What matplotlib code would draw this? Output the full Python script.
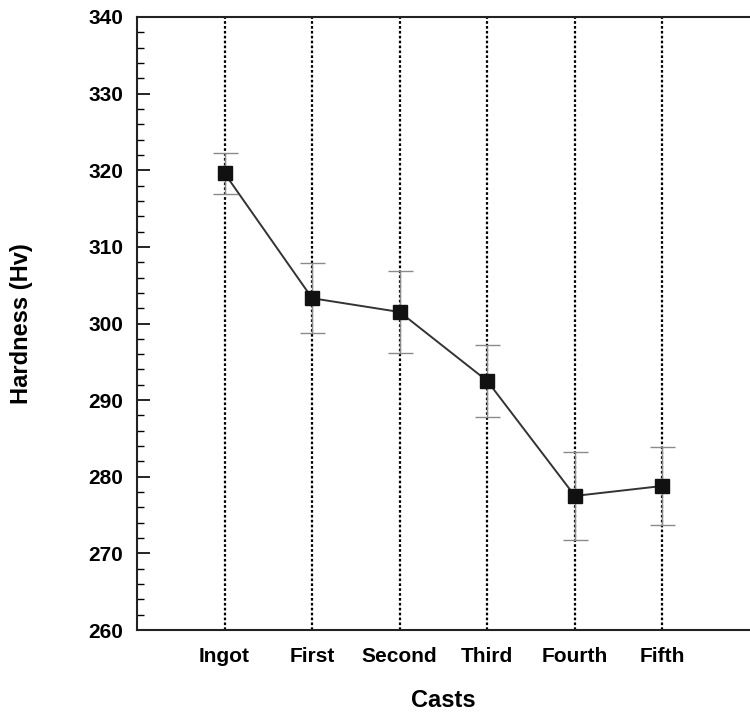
import matplotlib.pyplot as plt
from matplotlib.ticker import MultipleLocator

# Données
casts = ['Ingot', 'First', 'Second', 'Third', 'Fourth', 'Fifth']
hardness = [319.6, 303.3, 301.5, 292.5, 277.5, 278.8]
err = [2.7, 4.6, 5.4, 4.7, 5.7, 5.1]

plt.rcParams['font.family'] = ['Liberation Sans', 'DejaVu Sans']

fig = plt.figure(figsize=(7.5, 7.17), dpi=100)
ax = fig.add_axes([0.1827, 0.1213, 0.8173, 0.8550])

x = list(range(1, len(casts) + 1))

# lignes verticales pointillées
for xi in x:
    ax.axvline(xi, color='black', linestyle=(0, (1.2, 1.0)), lw=1.6, zorder=1)

ax.errorbar(x, hardness, yerr=err, fmt='none', ecolor='#8a8a8a',
            elinewidth=1, capsize=9, capthick=1, zorder=2)
ax.plot(x, hardness, color='#333333', lw=1.4, marker='s', markersize=10,
        markerfacecolor='#111111', markeredgecolor='#111111', zorder=3)

ax.set_xlim(0, 7)
ax.set_ylim(260, 340)
ax.set_xticks(x)
ax.set_xticklabels(casts, fontsize=15, fontweight='bold')
ax.tick_params(axis='x', length=0, pad=12)
ax.yaxis.set_major_locator(MultipleLocator(10))
ax.yaxis.set_minor_locator(MultipleLocator(2))
ax.tick_params(axis='y', which='major', direction='in', length=9, width=1.2,
               labelsize=15, pad=10)
ax.tick_params(axis='y', which='minor', direction='in', length=5, width=1)
for lab in ax.get_yticklabels():
    lab.set_fontweight('bold')

ax.spines['right'].set_visible(False)
for s in ['left', 'top', 'bottom']:
    ax.spines[s].set_linewidth(1.5)
    ax.spines[s].set_color('#222222')

ax.set_xlabel('Casts', fontsize=17, fontweight='bold', labelpad=17)
ax.set_ylabel('Hardness (Hv)', fontsize=17, fontweight='bold', labelpad=40)

fig.savefig('out.png', dpi=100)
